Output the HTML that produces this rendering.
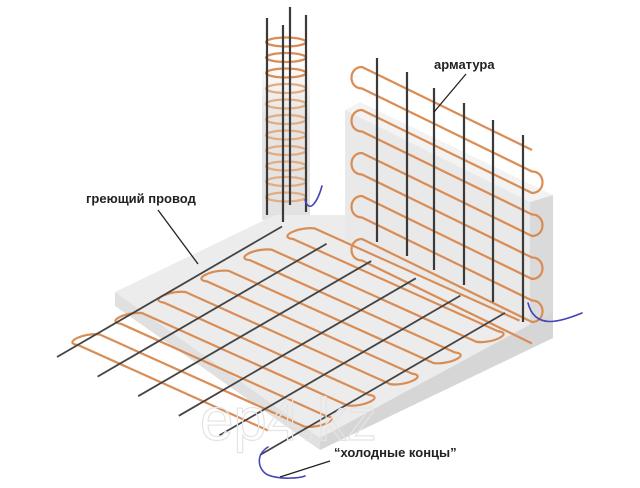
<!DOCTYPE html>
<html><head><meta charset="utf-8"><style>
html,body{margin:0;padding:0;background:#fff;}
svg{display:block;}
text{font-family:"Liberation Sans",sans-serif;font-weight:bold;font-size:13px;fill:#222;}
</style></head><body>
<svg id="s" width="640" height="488" viewBox="0 0 640 488" xmlns="http://www.w3.org/2000/svg">
<defs>
<linearGradient id="cg" x1="0" y1="0" x2="0" y2="1"><stop offset="0" stop-color="#fff"/><stop offset="0.35" stop-color="#e6e6e6"/><stop offset="1" stop-color="#e2e2e2"/></linearGradient>
</defs>
<polygon points="345,110 360,102 553,195 530,202" fill="#f3f3f3"/>
<polygon points="345,110 530,202 530,325 345,240" fill="#e9e9e9"/>
<polygon points="530,202 553,195 553,338 530,325" fill="#dadada"/>
<rect x="262" y="60" width="48" height="160" fill="url(#cg)"/>
<polygon points="115,292 275,215 345,215 345,240 530,325 553,312 320,438" fill="#ececec"/>
<polygon points="115,292 320,438 320,450 115,306" fill="#e0e0e0"/>
<polygon points="320,438 553,312 553,338 320,450" fill="#d6d6d6"/>
<g id="g"></g>
<text x="434" y="69">арматура</text>
<text x="86" y="203">греющий провод</text>
<text x="334" y="457">“холодные концы”</text>
<line x1="466" y1="74" x2="434" y2="112" stroke="#222" stroke-width="1.3"/>
<line x1="158" y1="210" x2="198" y2="264" stroke="#222" stroke-width="1.3"/>
<line x1="330" y1="461" x2="280" y2="477" stroke="#222" stroke-width="1.3"/>
<text x="200" y="440" style="font-size:60px;font-weight:normal;fill:none;stroke:#e4e4e4;stroke-width:1.2">ep4.kz</text>
</svg>
<script>
var g=document.getElementById('g'),h='';
function L(x1,y1,x2,y2,c,w){h+='<line x1="'+x1+'" y1="'+y1+'" x2="'+x2+'" y2="'+y2+'" stroke="'+c+'" stroke-width="'+w+'"/>';}
function P(d,c,w){h+='<path d="'+d+'" fill="none" stroke="'+c+'" stroke-width="'+w+'" stroke-linecap="round"/>';}
var O='#d98d55',W=2.2;
for(var i=0;i<11;i++){var y=42+i*15.5;h+='<ellipse cx="286" cy="'+y+'" rx="20" ry="4.5" fill="none" stroke="'+(i<3?O:'#e3ad82')+'" stroke-width="2.3"/>';}
[[267,18,215],[283,25,222],[290,7,205],[306,15,212]].forEach(function(r){L(r[0],r[1],r[0],r[2],'#3a3a3a',2.2);});
P('M305,200 C310,215 318,200 322,186','#4444bb',1.6);
var wl=[];for(var j=0;j<10;j++){wl.push([362,67+21.5*j,532,150+21.5*j]);}
wl.forEach(function(a){L(a[0],a[1],a[2],a[3],O,W);});
for(var j=0;j<10;j+=2){var a=wl[j],b=wl[j+1];P('M'+a[0]+','+a[1]+' C'+(a[0]-14)+','+a[1]+' '+(b[0]-14)+','+b[1]+' '+b[0]+','+b[1],O,W);}
for(var j=1;j<9;j+=2){var a=wl[j],b=wl[j+1];P('M'+a[2]+','+a[3]+' C'+(a[2]+14)+','+a[3]+' '+(b[2]+14)+','+b[3]+' '+b[2]+','+b[3],O,W);}
[[377,58,242],[407,72,256],[434,88,270],[464,103,285],[493,120,302],[523,135,322]].forEach(function(r){L(r[0],r[1],r[0],r[2],'#3a3a3a',2.2);});
P('M528,303 C535,330 560,322 582,313','#4444bb',1.6);
var fl=[];for(var n=0;n<12;n++){var sx=78+21.5*n,sy=345-10.6*n;var lx=(n==0?190:205);fl.push([sx,sy,sx+lx,sy+lx*0.45]);}
fl.forEach(function(a){L(a[0],a[1],a[2],a[3],O,W);});
for(var n=0;n<12;n+=2){var a=fl[n],b=fl[n+1];P('M'+a[0]+','+a[1]+' C'+(a[0]-16)+','+(a[1]-2)+' '+(b[0]-16)+','+(b[1]-2)+' '+b[0]+','+b[1],O,W);}
for(var n=1;n<11;n+=2){var a=fl[n],b=fl[n+1];P('M'+a[2]+','+a[3]+' C'+(a[2]+16)+','+(a[3]+2)+' '+(b[2]+16)+','+(b[3]+2)+' '+b[2]+','+b[3],O,W);}
for(var k=0;k<6;k++){var x=57+40.6*k,y=357+19.6*k;L(x,y,x+225+4*k,y-(225+4*k)*0.58,'#444',1.8);}
P('M268,447 C255,455 258,470 268,475 C280,480 300,478 305,476','#4444bb',1.6);
g.innerHTML=h;
</script>
</body></html>
